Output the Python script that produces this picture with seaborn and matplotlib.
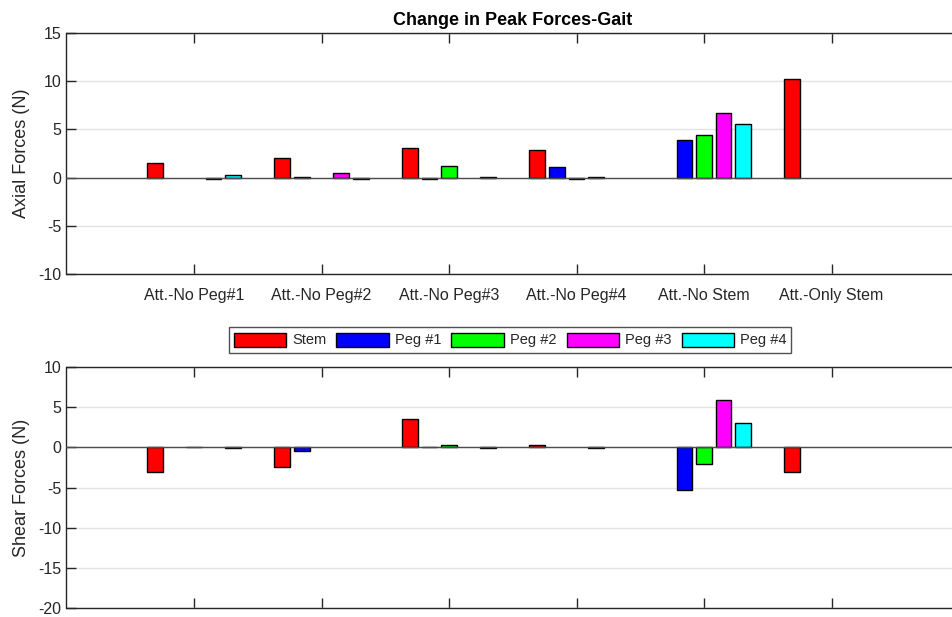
import matplotlib
matplotlib.use("Agg")
import matplotlib.pyplot as plt
import seaborn as sns
import pandas as pd

# Loading cases and the implant components
cases = ["Att.-No Peg#1", "Att.-No Peg#2", "Att.-No Peg#3",
         "Att.-No Peg#4", "Att.-No Stem", "Att.-Only Stem"]
components = ["Stem", "Peg #1", "Peg #2", "Peg #3", "Peg #4"]
colors = ["#ff0000", "#0000ff", "#00ff00", "#ff00ff", "#00ffff"]

# Change in peak axial force per component (N), one list per case
axial_no_peg1 = [1.5, 0.0, 0.0, -0.1, 0.3]
axial_no_peg2 = [2.0, 0.1, 0.0, 0.5, -0.1]
axial_no_peg3 = [3.1, -0.1, 1.2, 0.0, 0.1]
axial_no_peg4 = [2.9, 1.1, -0.1, 0.1, 0.0]
axial_no_stem = [0.0, 3.9, 4.4, 6.7, 5.6]
axial_only_stem = [10.2, 0.0, 0.0, 0.0, 0.0]

# Change in peak shear force per component (N), one list per case
shear_no_peg1 = [-3.1, 0.0, 0.1, 0.0, -0.1]
shear_no_peg2 = [-2.5, -0.4, 0.0, 0.0, 0.0]
shear_no_peg3 = [3.5, 0.1, 0.3, 0.0, -0.1]
shear_no_peg4 = [0.3, 0.0, 0.0, -0.1, 0.0]
shear_no_stem = [0.0, -5.3, -2.1, 5.9, 3.0]
shear_only_stem = [-3.1, 0.0, 0.0, 0.0, 0.0]

axial = [axial_no_peg1, axial_no_peg2, axial_no_peg3,
         axial_no_peg4, axial_no_stem, axial_only_stem]
shear = [shear_no_peg1, shear_no_peg2, shear_no_peg3,
         shear_no_peg4, shear_no_stem, shear_only_stem]


def long_form(table):
    rows = []
    for case, vals in zip(cases, table):
        for comp, v in zip(components, vals):
            rows.append({"case": case, "component": comp, "value": v})
    return pd.DataFrame(rows)


sns.set_theme(style="white")
plt.rcParams["font.family"] = ["Liberation Sans", "DejaVu Sans"]
plt.rcParams["axes.unicode_minus"] = False

W, H = 953, 617
fig = plt.figure(figsize=(W / 100, H / 100), dpi=100)
left = 66.5 / W
width = (959 - 66.5) / W
ax_top = fig.add_axes([left, 1 - 274 / H, width, 241 / H])
ax_bot = fig.add_axes([left, 1 - 608 / H, width, 241 / H])

spine_col = "#262626"
grid_col = "#e3e3e3"


def draw(ax, df, ylim, yticks, ylabel, show_labels):
    sns.barplot(data=df, x="case", y="value", hue="component",
                order=cases, hue_order=components, palette=colors,
                width=0.769, gap=0.2, edgecolor="black", linewidth=1.0,
                saturation=1, errorbar=None, legend=show_labels, ax=ax,
                zorder=3)
    # bars with no change sit on the baseline without an outline
    for p in ax.patches:
        if abs(p.get_height()) < 1e-9:
            p.set_linewidth(0)
    ax.set_xlim(-1, 6)
    ax.set_ylim(*ylim)
    ax.set_yticks(yticks)
    ax.yaxis.grid(True, color=grid_col, linewidth=1.0, zorder=0)
    ax.xaxis.grid(False)
    ax.set_axisbelow(True)
    ax.axhline(0, color="#4d4d4d", linewidth=1.0, zorder=4)
    for s in ax.spines.values():
        s.set_color(spine_col)
        s.set_linewidth(1.0)
    ax.tick_params(axis="both", direction="in", length=7, width=1.0,
                   color=spine_col, labelsize=11.5, labelcolor="#262626",
                   top=True, left=True, bottom=True)
    ax.set_ylabel(ylabel, fontsize=13, color="#262626", labelpad=6)
    ax.set_xlabel("")
    if not show_labels:
        ax.set_xticklabels([])


draw(ax_top, long_form(axial), (-10, 15), [-10, -5, 0, 5, 10, 15],
     "Axial Forces (N)", True)
draw(ax_bot, long_form(shear), (-20, 10), [-20, -15, -10, -5, 0, 5, 10],
     "Shear Forces (N)", False)

ax_top.tick_params(axis="x", pad=10)
ax_top.set_title("Change in Peak Forces-Gait", fontsize=13,
                 fontweight="bold", color="black", pad=6)

handles, labels = ax_top.get_legend_handles_labels()
ax_top.get_legend().remove()
leg = fig.legend(handles, labels, loc="center", ncol=5,
                 bbox_to_anchor=(510 / W, 1 - 340 / H),
                 frameon=True, fancybox=False, fontsize=10.5,
                 handlelength=3.6, handleheight=1.1, handletextpad=0.4,
                 columnspacing=0.7, borderpad=0.35, borderaxespad=0)
for h, c in zip(leg.get_patches(), colors):
    h.set_facecolor(c)
    h.set_edgecolor("black")
    h.set_linewidth(1.0)
leg.get_frame().set_edgecolor(spine_col)
leg.get_frame().set_linewidth(1.0)

fig.savefig("out.png", dpi=100)
